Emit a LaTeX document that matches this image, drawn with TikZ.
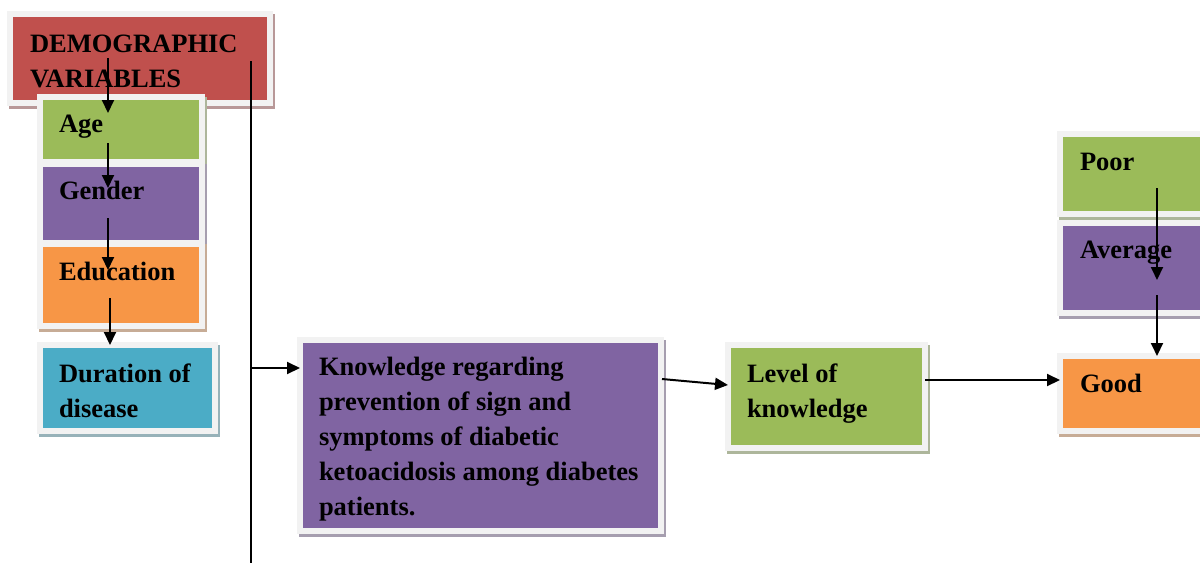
\documentclass[tikz,border=0pt]{standalone}
\usepackage{fontspec}
\setmainfont{Liberation Serif}
\usetikzlibrary{arrows.meta}
\definecolor{cred}{HTML}{C0504D}
\definecolor{cgreen}{HTML}{9BBB59}
\definecolor{cpurple}{HTML}{8064A2}
\definecolor{corange}{HTML}{F79646}
\definecolor{ccyan}{HTML}{4BACC6}
\definecolor{cframe}{HTML}{F2F2F2}
% width, height, first-baseline offset, left offset, text
\newcommand{\bxt}[5]{\parbox[t][#2pt][t]{#1pt}{\fontsize{26.5}{35}\selectfont\bfseries\leftskip=#4pt\rightskip=0pt plus 1fil\parindent=0pt\rule{0pt}{#3pt}#5}}
\tikzset{
  box/.style={anchor=north west, inner sep=0pt, outer sep=0pt, fill=#1, draw=cframe, line width=6pt,
    preaction={draw=#1!40!gray!70!white, fill=#1!40!gray!70!white, transform canvas={xshift=2pt,yshift=-3pt}}},
  arr/.style={-{Triangle[length=13pt,width=12pt]}, line width=2pt},
  plain/.style={line width=2pt}
}
\begin{document}
\begin{tikzpicture}[x=1pt,y=-1pt]
\useasboundingbox (0,0) rectangle (1200,563);
\clip (0,0) rectangle (1200,563);
\node[box=cred] (demo) at (10,14) {\bxt{260}{89}{38}{20}{DEMOGRAPHIC\\VARIABLES}};
\node[box=cgreen] (age) at (40,97) {\bxt{162}{65}{35}{19}{Age}};
\node[box=cpurple] (gender) at (40,164) {\bxt{162}{79}{35}{19}{Gender}};
\node[box=corange] (edu) at (40,244) {\bxt{162}{82}{36}{19}{Education}};
\node[box=ccyan] (dur) at (40,345) {\bxt{175}{86}{37}{19}{Duration of\\disease}};
\node[box=cpurple] (know) at (300,340) {\bxt{361}{191}{35}{19}{Knowledge regarding\\prevention of sign and\\symptoms of diabetic\\ketoacidosis among diabetes\\patients.}};
\node[box=cgreen] (lev) at (728,345) {\bxt{197}{103}{37}{19}{Level of\\knowledge}};
\node[box=cgreen] (poor) at (1060,134) {\bxt{150}{80}{36}{20}{Poor}};
\node[box=cpurple] (avg) at (1060,223) {\bxt{150}{90}{35}{20}{Average}};
\node[box=corange] (good) at (1060,356) {\bxt{150}{75}{36}{20}{Good}};
% connector end points
\coordinate (a0) at (108,58);  \coordinate (a1) at (108,113);
\coordinate (b0) at (108,143); \coordinate (b1) at (108,188);
\coordinate (c0) at (108,218); \coordinate (c1) at (108,270);
\coordinate (d0) at (110,298);
\coordinate (v0) at (251,61);  \coordinate (v1) at (251,563);
\coordinate (vj) at (251,368);
\coordinate (k0) at (662,379); \coordinate (k1) at (728,385);
\coordinate (l0) at (925,380);
\coordinate (p0) at (1157,188); \coordinate (p1) at (1157,280);
\coordinate (q0) at (1157,295);
\draw[arr] (a0) -- (a1);
\draw[arr] (b0) -- (b1);
\draw[arr] (c0) -- (c1);
\draw[arr] (d0) -- (d0 |- dur.north);
\draw[plain] (v0) -- (v1);
\draw[arr] (vj) -- (vj -| know.west);
\draw[arr] (k0) -- (k1);
\draw[arr] (l0) -- (l0 -| good.west);
\draw[arr] (p0) -- (p1);
\draw[arr] (q0) -- (q0 |- good.north);
\end{tikzpicture}
\end{document}
